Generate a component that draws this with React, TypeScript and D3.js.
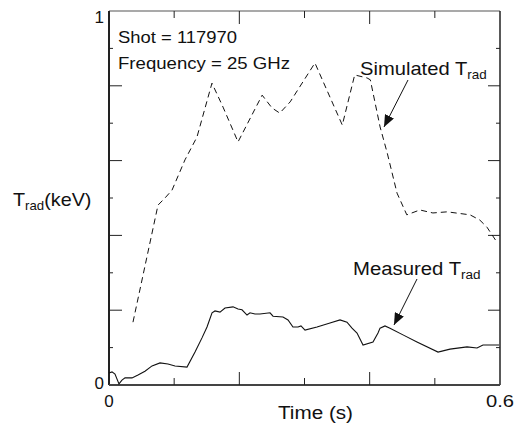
import React from "react";
import * as d3 from "d3";

const simT = [0.0368, 0.0752, 0.0859, 0.0967, 0.1166, 0.135, 0.158, 0.175, 0.198, 0.235, 0.25, 0.262, 0.278, 0.316, 0.358, 0.377, 0.396, 0.401, 0.416, 0.427, 0.442, 0.457, 0.477, 0.497, 0.519, 0.554, 0.569, 0.58, 0.596];
const simV = [0.168, 0.481, 0.5, 0.521, 0.602, 0.663, 0.807, 0.743, 0.65, 0.775, 0.741, 0.727, 0.757, 0.861, 0.695, 0.829, 0.821, 0.816, 0.69, 0.62, 0.513, 0.455, 0.468, 0.46, 0.463, 0.455, 0.441, 0.422, 0.38];

const measT = [0, 0.0046, 0.0092, 0.0153, 0.0199, 0.0246, 0.0353, 0.0445, 0.0552, 0.066, 0.0783, 0.0905, 0.1013, 0.1197, 0.132, 0.1427, 0.1504, 0.1581, 0.1627, 0.1703, 0.178, 0.1903, 0.198, 0.2041, 0.2118, 0.2164, 0.224, 0.2317, 0.2471, 0.2517, 0.267, 0.2747, 0.2823, 0.29, 0.2946, 0.3008, 0.3192, 0.3391, 0.3545, 0.3652, 0.3729, 0.3806, 0.3898, 0.4051, 0.4128, 0.4159, 0.4235, 0.4312, 0.4511, 0.4726, 0.5049, 0.5233, 0.5494, 0.5647, 0.5739, 0.5985];
const measV = [0.032, 0.035, 0.029, 0.003, 0.013, 0.019, 0.019, 0.027, 0.037, 0.051, 0.059, 0.056, 0.051, 0.048, 0.088, 0.126, 0.155, 0.193, 0.198, 0.195, 0.206, 0.209, 0.203, 0.201, 0.187, 0.193, 0.19, 0.19, 0.193, 0.184, 0.182, 0.174, 0.155, 0.155, 0.158, 0.147, 0.155, 0.166, 0.174, 0.168, 0.152, 0.139, 0.107, 0.115, 0.139, 0.152, 0.158, 0.152, 0.134, 0.115, 0.088, 0.096, 0.102, 0.099, 0.107, 0.107];

const xMajor = [0.2, 0.4];
const xMinor = [0.1, 0.3, 0.5];
const yMajor = [0.2, 0.4, 0.6, 0.8];
const yMinor = [0.1, 0.3, 0.5, 0.7, 0.9];

const FONT = "'Liberation Sans', Arial, Helvetica, sans-serif";

function SubLabel({ x, y, main, sub, after, s }: { x: number; y: number; main: string; sub: string; after?: string; s: number }) {
  return (
    <g transform={`translate(${x},${y}) scale(${s},1)`}>
      <text x={0} y={0} fontSize={18} fill="#111">
        {main}
        <tspan fontSize={12} dy={4}>{sub}</tspan>
        {after ? <tspan fontSize={18} dy={-4}>{after}</tspan> : null}
      </text>
    </g>
  );
}

export default function App() {
  const x = d3.scaleLinear().domain([0, 0.6]).range([109, 500]);
  const y = d3.scaleLinear().domain([0, 1]).range([385, 11]);
  const line = d3.line<[number, number]>().x((d) => x(d[0])).y((d) => y(d[1]));
  const simPath = line(simT.map((t, i) => [t, simV[i]]) as [number, number][]) || "";
  const measPath = line(measT.map((t, i) => [t, measV[i]]) as [number, number][]) || "";
  const [x0, x1] = x.range();
  const [y0, y1] = y.range();
  const ax = "#222";
  return (
    <svg width={520} height={426} style={{ position: "absolute", left: 0, top: 0, background: "#fff" }} fontFamily={FONT}>
      <defs>
        <marker id="ah" viewBox="0 0 12 10" refX={12} refY={5} markerWidth={12} markerHeight={10} markerUnits="userSpaceOnUse" orient="auto">
          <path d="M0,0 L12,5 L0,10 Z" fill="#111" />
        </marker>
      </defs>
      {/* frame */}
      <line x1={x0} x2={x1} y1={y1} y2={y1} stroke="#555" strokeWidth={1.2} />
      <line x1={x1} x2={x1} y1={y1} y2={y0} stroke={ax} strokeWidth={1.5} />
      <line x1={x0} x2={x0} y1={y1} y2={y0} stroke={ax} strokeWidth={2} />
      <line x1={x0} x2={x1} y1={y0} y2={y0} stroke="#444" strokeWidth={2} />
      {/* x ticks */}
      {xMajor.map((t) => (
        <g key={"xM" + t}>
          <line x1={x(t)} x2={x(t)} y1={y0} y2={y0 - 13} stroke={ax} strokeWidth={1} />
          <line x1={x(t)} x2={x(t)} y1={y1} y2={y1 + 13} stroke={ax} strokeWidth={1} />
        </g>
      ))}
      {xMinor.map((t) => (
        <g key={"xm" + t}>
          <line x1={x(t)} x2={x(t)} y1={y0} y2={y0 - 7} stroke={ax} strokeWidth={1} />
          <line x1={x(t)} x2={x(t)} y1={y1} y2={y1 + 7} stroke={ax} strokeWidth={1} />
        </g>
      ))}
      {/* y ticks */}
      {yMajor.map((v) => (
        <g key={"yM" + v}>
          <line x1={x0} x2={x0 + 13} y1={y(v)} y2={y(v)} stroke={ax} strokeWidth={1} />
          <line x1={x1} x2={x1 - 12} y1={y(v)} y2={y(v)} stroke={ax} strokeWidth={1} />
        </g>
      ))}
      {yMinor.map((v) => (
        <g key={"ym" + v}>
          <line x1={x0} x2={x0 + 4} y1={y(v)} y2={y(v)} stroke={ax} strokeWidth={1} />
          <line x1={x1} x2={x1 - 4} y1={y(v)} y2={y(v)} stroke={ax} strokeWidth={1} />
        </g>
      ))}
      {/* tick labels */}
      <text x={x0 - 5} y={y(1) + 12} textAnchor="end" fontSize={17} fill="#111">1</text>
      <text x={x0 - 5} y={y(0) + 4} textAnchor="end" fontSize={17} fill="#111">0</text>
      <text x={x(0)} y={407} textAnchor="middle" fontSize={17} fill="#111">0</text>
      <text x={x(0.6)} y={407} textAnchor="middle" fontSize={17} fill="#111" textLength={28} lengthAdjust="spacingAndGlyphs">0.6</text>
      <text x={278} y={419} fontSize={18} fill="#111" textLength={75} lengthAdjust="spacingAndGlyphs">Time (s)</text>
      {/* y label */}
      <SubLabel x={13} y={206} main="T" sub="rad" after="(keV)" s={1.1} />
      {/* annotations */}
      <text x={118} y={43} fontSize={17} fill="#111" textLength={119} lengthAdjust="spacingAndGlyphs">Shot = 117970</text>
      <text x={118} y={69} fontSize={17} fill="#111" textLength={172} lengthAdjust="spacingAndGlyphs">Frequency = 25 GHz</text>
      <SubLabel x={360} y={75} main="Simulated T" sub="rad" s={1.12} />
      <SubLabel x={353} y={275} main="Measured T" sub="rad" s={1.13} />
      <line x1={408} y1={80} x2={384} y2={127} stroke="#111" strokeWidth={1} markerEnd="url(#ah)" />
      <line x1={417} y1={279} x2={394} y2={325} stroke="#111" strokeWidth={1} markerEnd="url(#ah)" />
      {/* data */}
      <path d={simPath} fill="none" stroke="#111" strokeWidth={1} strokeDasharray="6,4" />
      <path d={measPath} fill="none" stroke="#111" strokeWidth={1.1} />
    </svg>
  );
}
